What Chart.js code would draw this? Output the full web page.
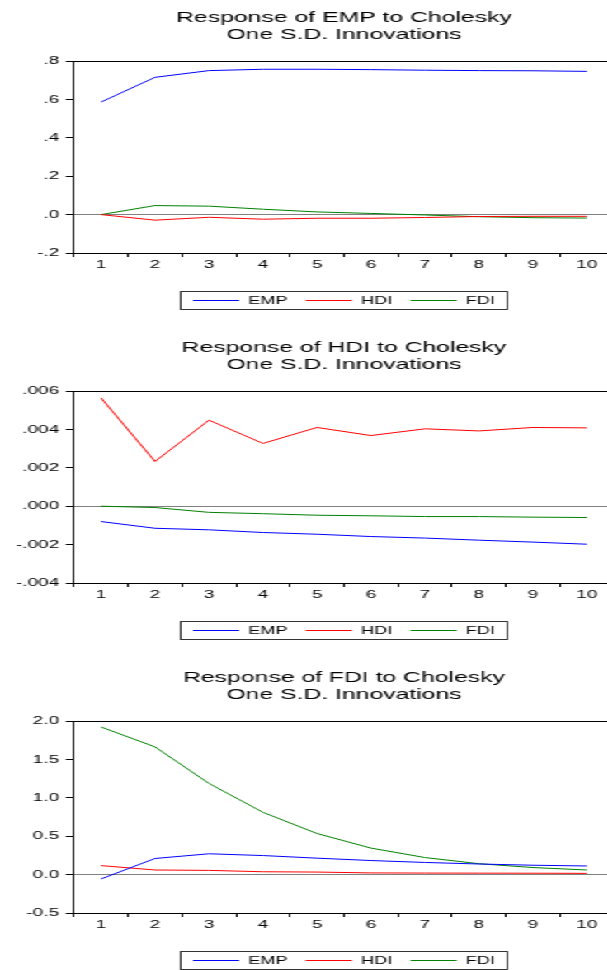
<!DOCTYPE html>
<html>
<head>
<meta charset="utf-8">
<script src="https://cdn.jsdelivr.net/npm/chart.js@4.4.1/dist/chart.umd.min.js"></script>
<style>
  html, body { margin: 0; padding: 0; background: #fff; }
  #stage { width: 607px; height: 970px; overflow: hidden; }
  /* the original graphs are stretched sideways, so draw narrow and stretch */
  #stretch { width: 380px; transform: scaleX(1.65); transform-origin: 0 0; }
  .panel { width: 380px; height: 330px; position: relative; }
</style>
</head>
<body>
<div id="stage">
  <div id="stretch">
    <div class="panel"><canvas id="chartEmp"></canvas></div>
    <div class="panel"><canvas id="chartHdi"></canvas></div>
    <div class="panel"><canvas id="chartFdi"></canvas></div>
  </div>
</div>
<script>
const periods = ["1", "2", "3", "4", "5", "6", "7", "8", "9", "10"];
const seriesNames = ["EMP", "HDI", "FDI"];

// Response of EMP
const empToEmp = [0.586, 0.715, 0.750, 0.757, 0.757, 0.755, 0.752, 0.750, 0.749, 0.746];
const empToHdi = [0.0, -0.029, -0.014, -0.024, -0.019, -0.019, -0.015, -0.010, -0.009, -0.009];
const empToFdi = [0.0, 0.047, 0.044, 0.028, 0.014, 0.006, -0.002, -0.011, -0.016, -0.018];
const empTicks = [-0.2, 0.0, 0.2, 0.4, 0.6, 0.8];
const empTickLabels = ["-.2", ".0", ".2", ".4", ".6", ".8"];

// Response of HDI
const hdiToEmp = [-0.0008, -0.00115, -0.00123, -0.00137, -0.00146, -0.00158, -0.00166, -0.00177, -0.00187, -0.00198];
const hdiToHdi = [0.00564, 0.00233, 0.00448, 0.00327, 0.0041, 0.00368, 0.00403, 0.00392, 0.0041, 0.00408];
const hdiToFdi = [0.0, -0.00007, -0.00032, -0.00039, -0.00047, -0.0005, -0.00054, -0.00054, -0.00057, -0.00059];
const hdiTicks = [-0.004, -0.002, 0.0, 0.002, 0.004, 0.006];
const hdiTickLabels = ["-.004", "-.002", ".000", ".002", ".004", ".006"];

// Response of FDI
const fdiToEmp = [-0.057, 0.21, 0.271, 0.248, 0.214, 0.183, 0.158, 0.138, 0.122, 0.112];
const fdiToHdi = [0.117, 0.06, 0.055, 0.037, 0.033, 0.022, 0.02, 0.019, 0.018, 0.016];
const fdiToFdi = [1.922, 1.663, 1.187, 0.811, 0.535, 0.345, 0.222, 0.142, 0.092, 0.060];
const fdiTicks = [-0.5, 0.0, 0.5, 1.0, 1.5, 2.0];
const fdiTickLabels = ["-0.5", "0.0", "0.5", "1.0", "1.5", "2.0"];

const lineColors = ["#0000ff", "#ff0000", "#008000"];

Chart.defaults.font.family = "'Liberation Sans', Arial, sans-serif";
Chart.defaults.color = "#000";

// top border of the plot box and the frame around the legend
const framePlugin = {
	id: "frame",
	afterDraw(chart) {
		const ctx = chart.ctx;
		const a = chart.chartArea;
		ctx.save();
		ctx.strokeStyle = "#000";
		ctx.lineWidth = 1;
		ctx.beginPath();
		ctx.moveTo(a.left, a.top + 0.5);
		ctx.lineTo(a.right, a.top + 0.5);
		ctx.lineTo(a.right, a.bottom);
		ctx.stroke();

		const boxes = chart.legend.legendHitBoxes;
		if (boxes && boxes.length) {
			const first = boxes[0];
			const last = boxes[boxes.length - 1];
			const x0 = first.left - 7.5;
			const x1 = last.left + last.width + 7.5;
			const y0 = Math.round(first.top - 4) + 0.5;
			const y1 = Math.round(first.top + first.height + 4) - 0.5;
			ctx.strokeStyle = "#333";
			ctx.strokeRect(x0, y0, x1 - x0, y1 - y0);
		}
		ctx.restore();
	}
};

function makeChart(id, title, values, yTicks, yLabels) {
	return new Chart(document.getElementById(id), {
		type: "line",
		data: {
			labels: periods,
			datasets: values.map(function(v, i) {
				return {
					label: seriesNames[i],
					data: v,
					borderColor: lineColors[i],
					backgroundColor: lineColors[i],
					borderWidth: 1,
					pointRadius: 0,
					tension: 0,
					fill: false
				};
			})
		},
		options: {
			responsive: true,
			maintainAspectRatio: false,
			animation: false,
			layout: { padding: { left: 0, right: 7.9, top: 0, bottom: 14 } },
			plugins: {
				title: {
					display: true,
					text: title,
					fullSize: false,
					color: "#000",
					font: { size: 15, weight: "normal", lineHeight: 1.15 },
					padding: { top: 9, bottom: 17.5 }
				},
				legend: {
					position: "bottom",
					fullSize: false,
					labels: {
						usePointStyle: true,
						pointStyle: "line",
						pointStyleWidth: 28,
						padding: 11,
						color: "#000",
						font: { size: 11 }
					}
				},
				tooltip: { enabled: false }
			},
			scales: {
				x: {
					offset: true,
					afterFit: function(scale) { scale.height = 31; },
					grid: {
						offset: true,
						drawOnChartArea: false,
						tickLength: 4,
						tickColor: "#000"
					},
					border: { display: true, color: "#000", width: 1 },
					ticks: { padding: 1, maxRotation: 0, font: { size: 11.5 } }
				},
				y: {
					min: yTicks[0],
					max: yTicks[yTicks.length - 1],
					afterFit: function(scale) { scale.width = 44.85; },
					afterBuildTicks: function(scale) {
						scale.ticks = yTicks.map(function(v) { return { value: v }; });
					},
					grid: {
						color: function(c) {
							return c.tick && c.tick.value === 0 ? "#808080" : "rgba(0,0,0,0)";
						},
						tickLength: 5,
						tickColor: "#000"
					},
					border: { display: true, color: "#000", width: 1 },
					ticks: {
						padding: 4,
						font: { size: 11.5 },
						callback: function(value, index) { return yLabels[index]; }
					}
				}
			}
		},
		plugins: [framePlugin]
	});
}

const empChart = makeChart("chartEmp",
	["Response of EMP to Cholesky", "One S.D. Innovations"],
	[empToEmp, empToHdi, empToFdi], empTicks, empTickLabels);

const hdiChart = makeChart("chartHdi",
	["Response of HDI to Cholesky", "One S.D. Innovations"],
	[hdiToEmp, hdiToHdi, hdiToFdi], hdiTicks, hdiTickLabels);

const fdiChart = makeChart("chartFdi",
	["Response of FDI to Cholesky", "One S.D. Innovations"],
	[fdiToEmp, fdiToHdi, fdiToFdi], fdiTicks, fdiTickLabels);
</script>
</body>
</html>
